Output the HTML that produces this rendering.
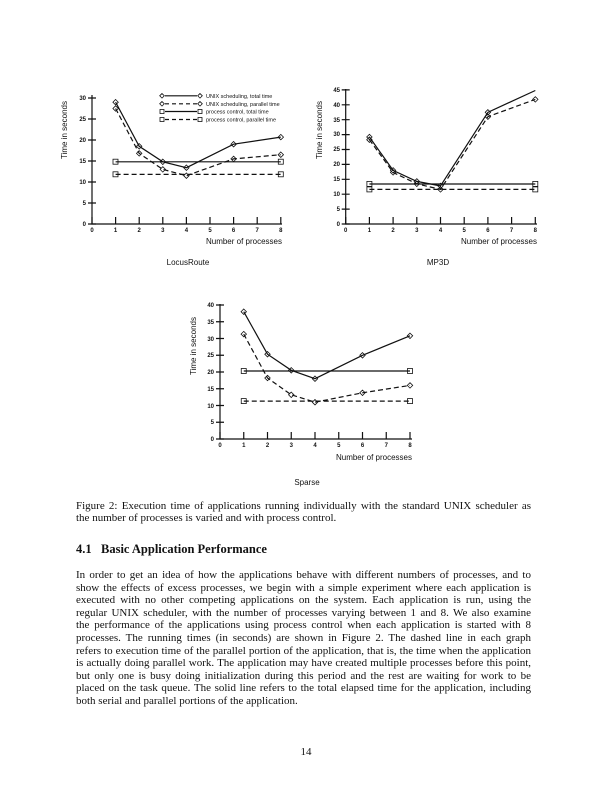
<!DOCTYPE html>
<html><head><meta charset="utf-8"><style>
body{margin:0;background:#fff;width:612px;height:791px;position:relative;overflow:hidden;font-family:"Liberation Serif",serif;color:#111}
svg{position:absolute;left:0;top:0}
.l{position:absolute;left:76px;width:455px;font-size:11px;line-height:13px;white-space:nowrap;text-align:justify;text-align-last:justify}
.n{text-align-last:left}
</style></head><body>
<svg width="612" height="791" font-family="Liberation Sans, sans-serif" fill="none" stroke="#111">
<!-- Chart 1 LocusRoute -->
<g stroke-width="1.2">
<path d="M92 95V224H282"/>
<path d="M88 224H96M88 203H96M88 182H96M88 161H96M88 140H96M88 119H96M88 98H96"/>
<path d="M92 224V217M115.6 224V217M139.2 224V217M162.8 224V217M186.4 224V217M210 224V217M233.6 224V217M257.2 224V217M280.8 224V217"/>
<polyline points="115.6,102.2 139.2,146.3 162.8,161.8 186.4,167.7 233.6,144.2 280.8,137.1"/>
<polyline stroke-dasharray="5,3" points="115.6,108.5 139.2,153.4 162.8,169.4 186.4,175.7 233.6,158.9 280.8,154.7"/>
<path d="M115.6 161.8H280.8"/>
<path stroke-dasharray="5,3" d="M115.6 174.4H280.8"/>
</g>
<g stroke-width="0.8">
<path d="M115.6 99.5l2.7 2.7-2.7 2.7-2.7-2.7zM139.2 143.6l2.7 2.7-2.7 2.7-2.7-2.7zM162.8 159.1l2.7 2.7-2.7 2.7-2.7-2.7zM186.4 165l2.7 2.7-2.7 2.7-2.7-2.7zM233.6 141.5l2.7 2.7-2.7 2.7-2.7-2.7zM280.8 134.4l2.7 2.7-2.7 2.7-2.7-2.7z"/>
<path d="M115.6 105.8l2.7 2.7-2.7 2.7-2.7-2.7zM139.2 150.7l2.7 2.7-2.7 2.7-2.7-2.7zM162.8 166.7l2.7 2.7-2.7 2.7-2.7-2.7zM186.4 173l2.7 2.7-2.7 2.7-2.7-2.7zM233.6 156.2l2.7 2.7-2.7 2.7-2.7-2.7zM280.8 152l2.7 2.7-2.7 2.7-2.7-2.7z"/>
<rect x="113" y="159.2" width="5" height="5"/><rect x="278.3" y="159.2" width="5" height="5"/>
<rect x="113" y="171.8" width="5" height="5"/><rect x="278.3" y="171.8" width="5" height="5"/>
<path d="M162 93.5l2.3 2.3-2.3 2.3-2.3-2.3zM200 93.5l2.3 2.3-2.3 2.3-2.3-2.3zM162 101.5l2.3 2.3-2.3 2.3-2.3-2.3zM200 101.5l2.3 2.3-2.3 2.3-2.3-2.3z"/>
<rect x="160" y="109.5" width="4" height="4"/><rect x="198" y="109.5" width="4" height="4"/>
<rect x="160" y="117.5" width="4" height="4"/><rect x="198" y="117.5" width="4" height="4"/>
</g>
<g stroke-width="1.2"><path d="M165 95.8H197M165 111.5H197"/><path stroke-dasharray="4,3" d="M165 103.8H197M165 119.5H197"/></g>
<g fill="#111" stroke="none" font-size="5.5">
<text x="206" y="97.8">UNIX scheduling, total time</text>
<text x="206" y="105.8">UNIX scheduling, parallel time</text>
<text x="206" y="113.5">process control, total time</text>
<text x="206" y="121.5">process control, parallel time</text>
</g>
<g fill="#111" stroke="none" font-size="6" font-weight="bold" text-anchor="end">
<text x="86" y="226">0</text><text x="86" y="205">5</text><text x="86" y="184">10</text><text x="86" y="163">15</text><text x="86" y="142">20</text><text x="86" y="121">25</text><text x="86" y="100">30</text>
</g>
<g fill="#111" stroke="none" font-size="6" font-weight="bold" text-anchor="middle">
<text x="92" y="232">0</text><text x="115.6" y="232">1</text><text x="139.2" y="232">2</text><text x="162.8" y="232">3</text><text x="186.4" y="232">4</text><text x="210" y="232">5</text><text x="233.6" y="232">6</text><text x="257.2" y="232">7</text><text x="280.8" y="232">8</text>
</g>
<g fill="#111" stroke="none" font-size="8">
<text x="282" y="244" text-anchor="end">Number of processes</text>
<text x="188" y="265" text-anchor="middle">LocusRoute</text>
<text transform="translate(67,130) rotate(-90)" text-anchor="middle">Time in seconds</text>
</g>

<!-- Chart 2 MP3D -->
<g stroke-width="1.2">
<path d="M345.7 89V224H537"/>
<path d="M341.7 224H349.7M341.7 209.1H349.7M341.7 194.2H349.7M341.7 179.3H349.7M341.7 164.4H349.7M341.7 149.5H349.7M341.7 134.6H349.7M341.7 119.7H349.7M341.7 104.8H349.7M341.7 89.9H349.7"/>
<path d="M345.7 224V217M369.4 224V217M393.1 224V217M416.8 224V217M440.5 224V217M464.2 224V217M487.9 224V217M511.6 224V217M535.3 224V217"/>
<polyline points="369.4,137 393.1,170.4 416.8,181.4 440.5,185.9 487.9,112.3 535.3,90.5"/>
<polyline stroke-dasharray="5,3" points="369.4,139.7 393.1,172.4 416.8,183.8 440.5,189.4 487.9,116.7 535.3,99.4"/>
<path d="M369.4 184H535.3"/>
<path stroke-dasharray="5,3" d="M369.4 189.4H535.3"/>
</g>
<g stroke-width="0.8">
<path d="M369.4 134.3l2.7 2.7-2.7 2.7-2.7-2.7zM393.1 167.7l2.7 2.7-2.7 2.7-2.7-2.7zM416.8 178.7l2.7 2.7-2.7 2.7-2.7-2.7zM440.5 183.2l2.7 2.7-2.7 2.7-2.7-2.7zM487.9 109.6l2.7 2.7-2.7 2.7-2.7-2.7z"/>
<path d="M369.4 137l2.7 2.7-2.7 2.7-2.7-2.7zM393.1 169.7l2.7 2.7-2.7 2.7-2.7-2.7zM416.8 181.1l2.7 2.7-2.7 2.7-2.7-2.7zM440.5 186.7l2.7 2.7-2.7 2.7-2.7-2.7zM487.9 114l2.7 2.7-2.7 2.7-2.7-2.7zM535.3 96.7l2.7 2.7-2.7 2.7-2.7-2.7z"/>
<rect x="366.9" y="181.4" width="5" height="5"/><rect x="532.8" y="181.4" width="5" height="5"/>
<rect x="366.9" y="186.9" width="5" height="5"/><rect x="532.8" y="186.9" width="5" height="5"/>
</g>
<g fill="#111" stroke="none" font-size="6" font-weight="bold" text-anchor="end">
<text x="340" y="226">0</text><text x="340" y="211">5</text><text x="340" y="196">10</text><text x="340" y="181">15</text><text x="340" y="166">20</text><text x="340" y="151">25</text><text x="340" y="136">30</text><text x="340" y="122">35</text><text x="340" y="107">40</text><text x="340" y="92">45</text>
</g>
<g fill="#111" stroke="none" font-size="6" font-weight="bold" text-anchor="middle">
<text x="345.7" y="232">0</text><text x="369.4" y="232">1</text><text x="393.1" y="232">2</text><text x="416.8" y="232">3</text><text x="440.5" y="232">4</text><text x="464.2" y="232">5</text><text x="487.9" y="232">6</text><text x="511.6" y="232">7</text><text x="535.3" y="232">8</text>
</g>
<g fill="#111" stroke="none" font-size="8">
<text x="537" y="244" text-anchor="end">Number of processes</text>
<text x="438" y="265" text-anchor="middle">MP3D</text>
<text transform="translate(322,130) rotate(-90)" text-anchor="middle">Time in seconds</text>
</g>

<!-- Chart 3 Sparse -->
<g stroke-width="1.2">
<path d="M220 304V439H412"/>
<path d="M216 439H224M216 422.25H224M216 405.5H224M216 388.75H224M216 372H224M216 355.25H224M216 338.5H224M216 321.75H224M216 305H224"/>
<path d="M220 439V432M243.75 439V432M267.5 439V432M291.25 439V432M315 439V432M338.75 439V432M362.5 439V432M386.25 439V432M410 439V432"/>
<polyline points="243.75,311.7 267.5,354.2 291.25,370.3 315,378.7 362.5,355.3 410,335.8"/>
<polyline stroke-dasharray="5,3" points="243.75,334.1 267.5,378 291.25,394.8 315,402.2 362.5,392.8 410,385.4"/>
<path d="M243.75 371H410"/>
<path stroke-dasharray="5,3" d="M243.75 401.1H410"/>
</g>
<g stroke-width="0.8">
<path d="M243.75 309l2.7 2.7-2.7 2.7-2.7-2.7zM267.5 351.5l2.7 2.7-2.7 2.7-2.7-2.7zM291.25 367.6l2.7 2.7-2.7 2.7-2.7-2.7zM315 376l2.7 2.7-2.7 2.7-2.7-2.7zM362.5 352.6l2.7 2.7-2.7 2.7-2.7-2.7zM410 333.1l2.7 2.7-2.7 2.7-2.7-2.7z"/>
<path d="M243.75 331.4l2.7 2.7-2.7 2.7-2.7-2.7zM267.5 375.3l2.7 2.7-2.7 2.7-2.7-2.7zM291.25 392.1l2.7 2.7-2.7 2.7-2.7-2.7zM315 399.5l2.7 2.7-2.7 2.7-2.7-2.7zM362.5 390.1l2.7 2.7-2.7 2.7-2.7-2.7zM410 382.7l2.7 2.7-2.7 2.7-2.7-2.7z"/>
<rect x="241.25" y="368.5" width="5" height="5"/><rect x="407.5" y="368.5" width="5" height="5"/>
<rect x="241.25" y="398.6" width="5" height="5"/><rect x="407.5" y="398.6" width="5" height="5"/>
</g>
<g fill="#111" stroke="none" font-size="6" font-weight="bold" text-anchor="end">
<text x="214" y="441">0</text><text x="214" y="424">5</text><text x="214" y="408">10</text><text x="214" y="391">15</text><text x="214" y="374">20</text><text x="214" y="357">25</text><text x="214" y="341">30</text><text x="214" y="324">35</text><text x="214" y="307">40</text>
</g>
<g fill="#111" stroke="none" font-size="6" font-weight="bold" text-anchor="middle">
<text x="220" y="447">0</text><text x="243.75" y="447">1</text><text x="267.5" y="447">2</text><text x="291.25" y="447">3</text><text x="315" y="447">4</text><text x="338.75" y="447">5</text><text x="362.5" y="447">6</text><text x="386.25" y="447">7</text><text x="410" y="447">8</text>
</g>
<g fill="#111" stroke="none" font-size="8">
<text x="412" y="460" text-anchor="end">Number of processes</text>
<text x="307" y="485" text-anchor="middle">Sparse</text>
<text transform="translate(196,346) rotate(-90)" text-anchor="middle">Time in seconds</text>
</g>
</svg>

<div class="l" style="top:500px">Figure 2: Execution time of applications running individually with the standard UNIX scheduler as</div>
<div class="l n" style="top:512px">the number of processes is varied and with process control.</div>
<div class="l n" style="top:543px;font-size:12.5px;font-weight:bold">4.1&nbsp;&nbsp;&nbsp;Basic Application Performance</div>
<div class="l" style="top:569px">In order to get an idea of how the applications behave with different numbers of processes, and to</div>
<div class="l" style="top:581.6px">show the effects of excess processes, we begin with a simple experiment where each application is</div>
<div class="l" style="top:594.2px">executed with no other competing applications on the system. Each application is run, using the</div>
<div class="l" style="top:606.8px">regular UNIX scheduler, with the number of processes varying between 1 and 8. We also examine</div>
<div class="l" style="top:619.4px">the performance of the applications using process control when each application is started with 8</div>
<div class="l" style="top:632px">processes. The running times (in seconds) are shown in Figure 2. The dashed line in each graph</div>
<div class="l" style="top:644.6px">refers to execution time of the parallel portion of the application, that is, the time when the application</div>
<div class="l" style="top:657.2px">is actually doing parallel work. The application may have created multiple processes before this point,</div>
<div class="l" style="top:669.8px">but only one is busy doing initialization during this period and the rest are waiting for work to be</div>
<div class="l" style="top:682.4px">placed on the task queue. The solid line refers to the total elapsed time for the application, including</div>
<div class="l n" style="top:695px">both serial and parallel portions of the application.</div>
<div style="position:absolute;left:0;width:612px;top:746px;text-align:center;font-size:11px">14</div>
</body></html>
